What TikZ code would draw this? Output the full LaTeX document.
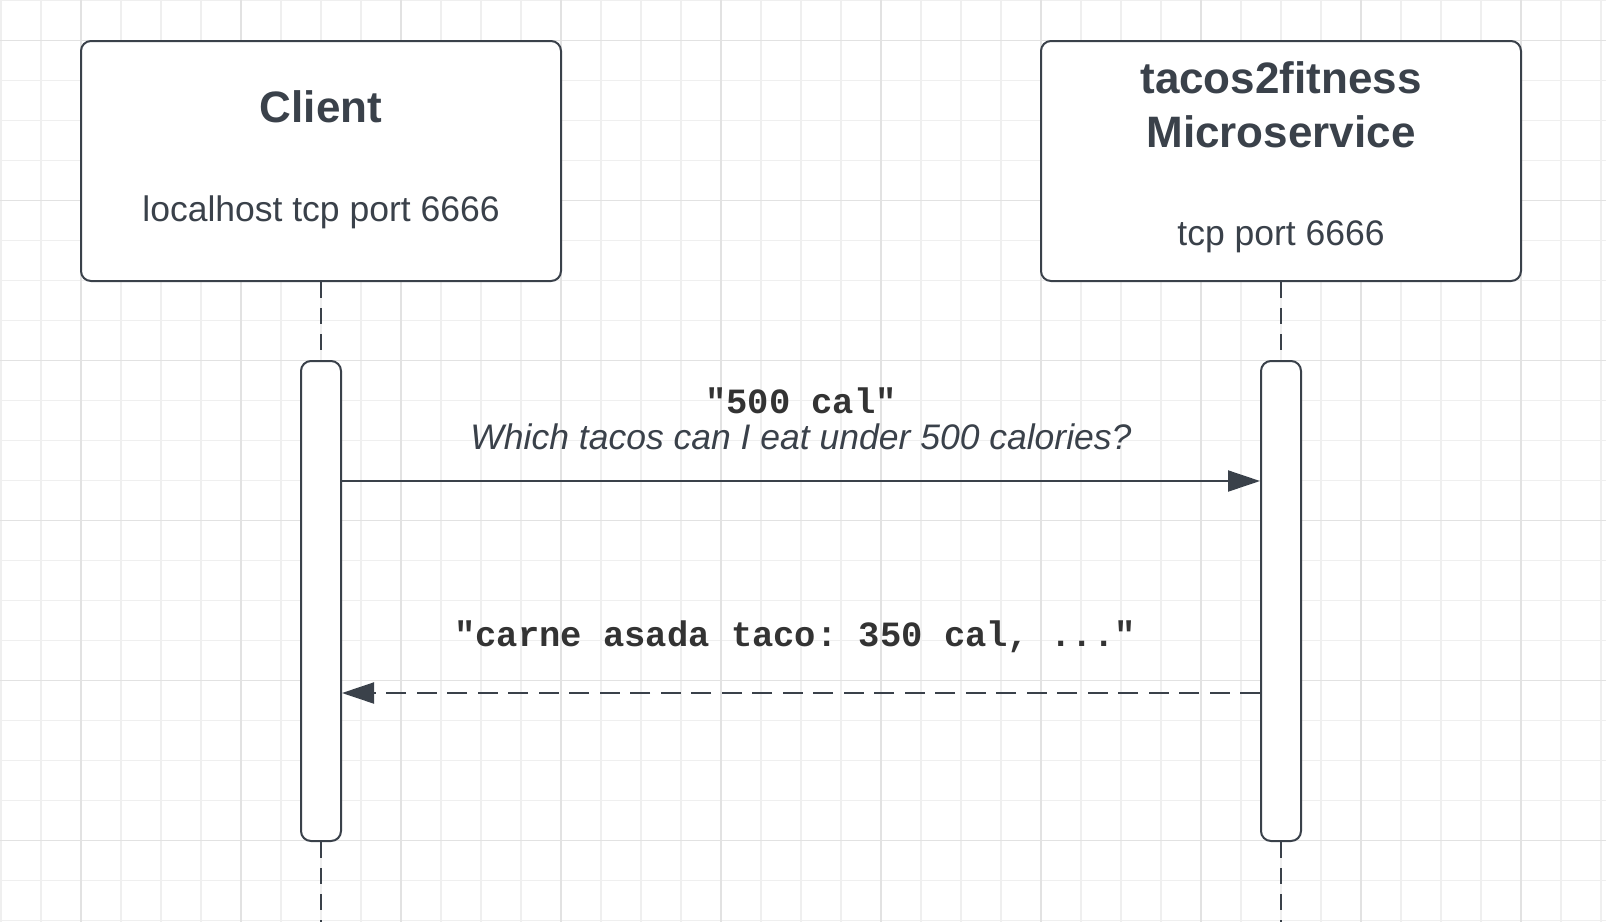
\documentclass[tikz,border=0pt]{standalone}
\usepackage{fontspec}
\setmainfont{Liberation Sans}
\setmonofont{Liberation Mono}
\usetikzlibrary{arrows.meta}
\definecolor{ink}{HTML}{3A414A}
\definecolor{codeink}{HTML}{333333}
\definecolor{gridminor}{HTML}{EFEFEF}
\definecolor{gridmajor}{HTML}{E2E2E2}
\begin{document}
\begin{tikzpicture}[x=1pt,y=-1pt,
  box/.style={draw=ink, line width=2pt, fill=white, rounded corners=10pt, minimum width=480pt, minimum height=240pt, inner sep=0pt},
  bar/.style={draw=ink, line width=2pt, fill=white, rounded corners=10pt, minimum width=40pt, minimum height=480pt, inner sep=0pt},
  life/.style={draw=ink, line width=2pt, dash pattern=on 16pt off 10pt},
  msg/.style={draw=ink, line width=2pt, -{Triangle[length=32pt,width=21pt]}},
  reply/.style={msg, dash pattern=on 20pt off 10.5pt},
  title/.style={font=\fontsize{44}{53}\selectfont\bfseries, text=ink, anchor=base, inner sep=0pt},
  sub/.style={font=\fontsize{35.5}{42}\selectfont, text=ink, anchor=base, inner sep=0pt},
  subit/.style={font=\fontsize{35.5}{42}\selectfont\itshape, text=ink, anchor=base, inner sep=0pt},
  code/.style={font=\fontsize{35.5}{42}\ttfamily\bfseries, text=codeink, anchor=base, inner sep=0pt},
  minorline/.style={draw=gridminor, line width=1.2pt},
  majorline/.style={draw=gridmajor, line width=1.3pt},
]
\useasboundingbox (0,0) rectangle (1606,922);
\fill[white] (0,0) rectangle (1606,922);
% grid
\foreach \x in {1,41,...,1601} \draw[minorline] (\x,0) -- (\x,922);
\foreach \y in {0.5,40.5,...,920.5} \draw[minorline] (0,\y) -- (1606,\y);
\foreach \x in {81,241,...,1521} \draw[majorline] (\x,0) -- (\x,922);
\foreach \y in {40.5,200.5,...,840.5} \draw[majorline] (0,\y) -- (1606,\y);

% participants
\node[box] (cb) at (321,161) {};
\node[box] (sb) at (1281,161) {};
\node[bar] (cbar) at (321,601) {};
\node[bar] (sbar) at (1281,601) {};
\coordinate (cend) at (321,922);
\coordinate (send) at (1281,922);

% lifelines
\draw[life] (cb.south) -- (cbar.north);
\draw[life] (cbar.south) -- (cend);
\draw[life] (sb.south) -- (sbar.north);
\draw[life] (sbar.south) -- (send);

% texts in boxes
\node[title] (ct) at (321,122) {Client};
\node[sub] (cs) at (321,221) {localhost tcp port 6666};
\node[title] (st1) at (1281,93.3) {tacos2fitness};
\node[title] (st2) at (1281,147.7) {Microservice};
\node[sub] (ss) at (1281,245) {tcp port 6666};

% messages
\coordinate (m1) at (0,481);
\coordinate (m2) at (0,693);
\draw[msg] (cbar.east |- m1) -- (sbar.west |- m1);
\draw[reply] (sbar.west |- m2) -- (cbar.east |- m2);

\node[code] (l1) at (801,413) {"500 cal"};
\node[subit] (l2) at (801,449) {Which tacos can I eat under 500 calories?};
\node[code] (l3) at (795,646) {"carne asada taco: 350 cal, ..."};
\end{tikzpicture}
\end{document}
